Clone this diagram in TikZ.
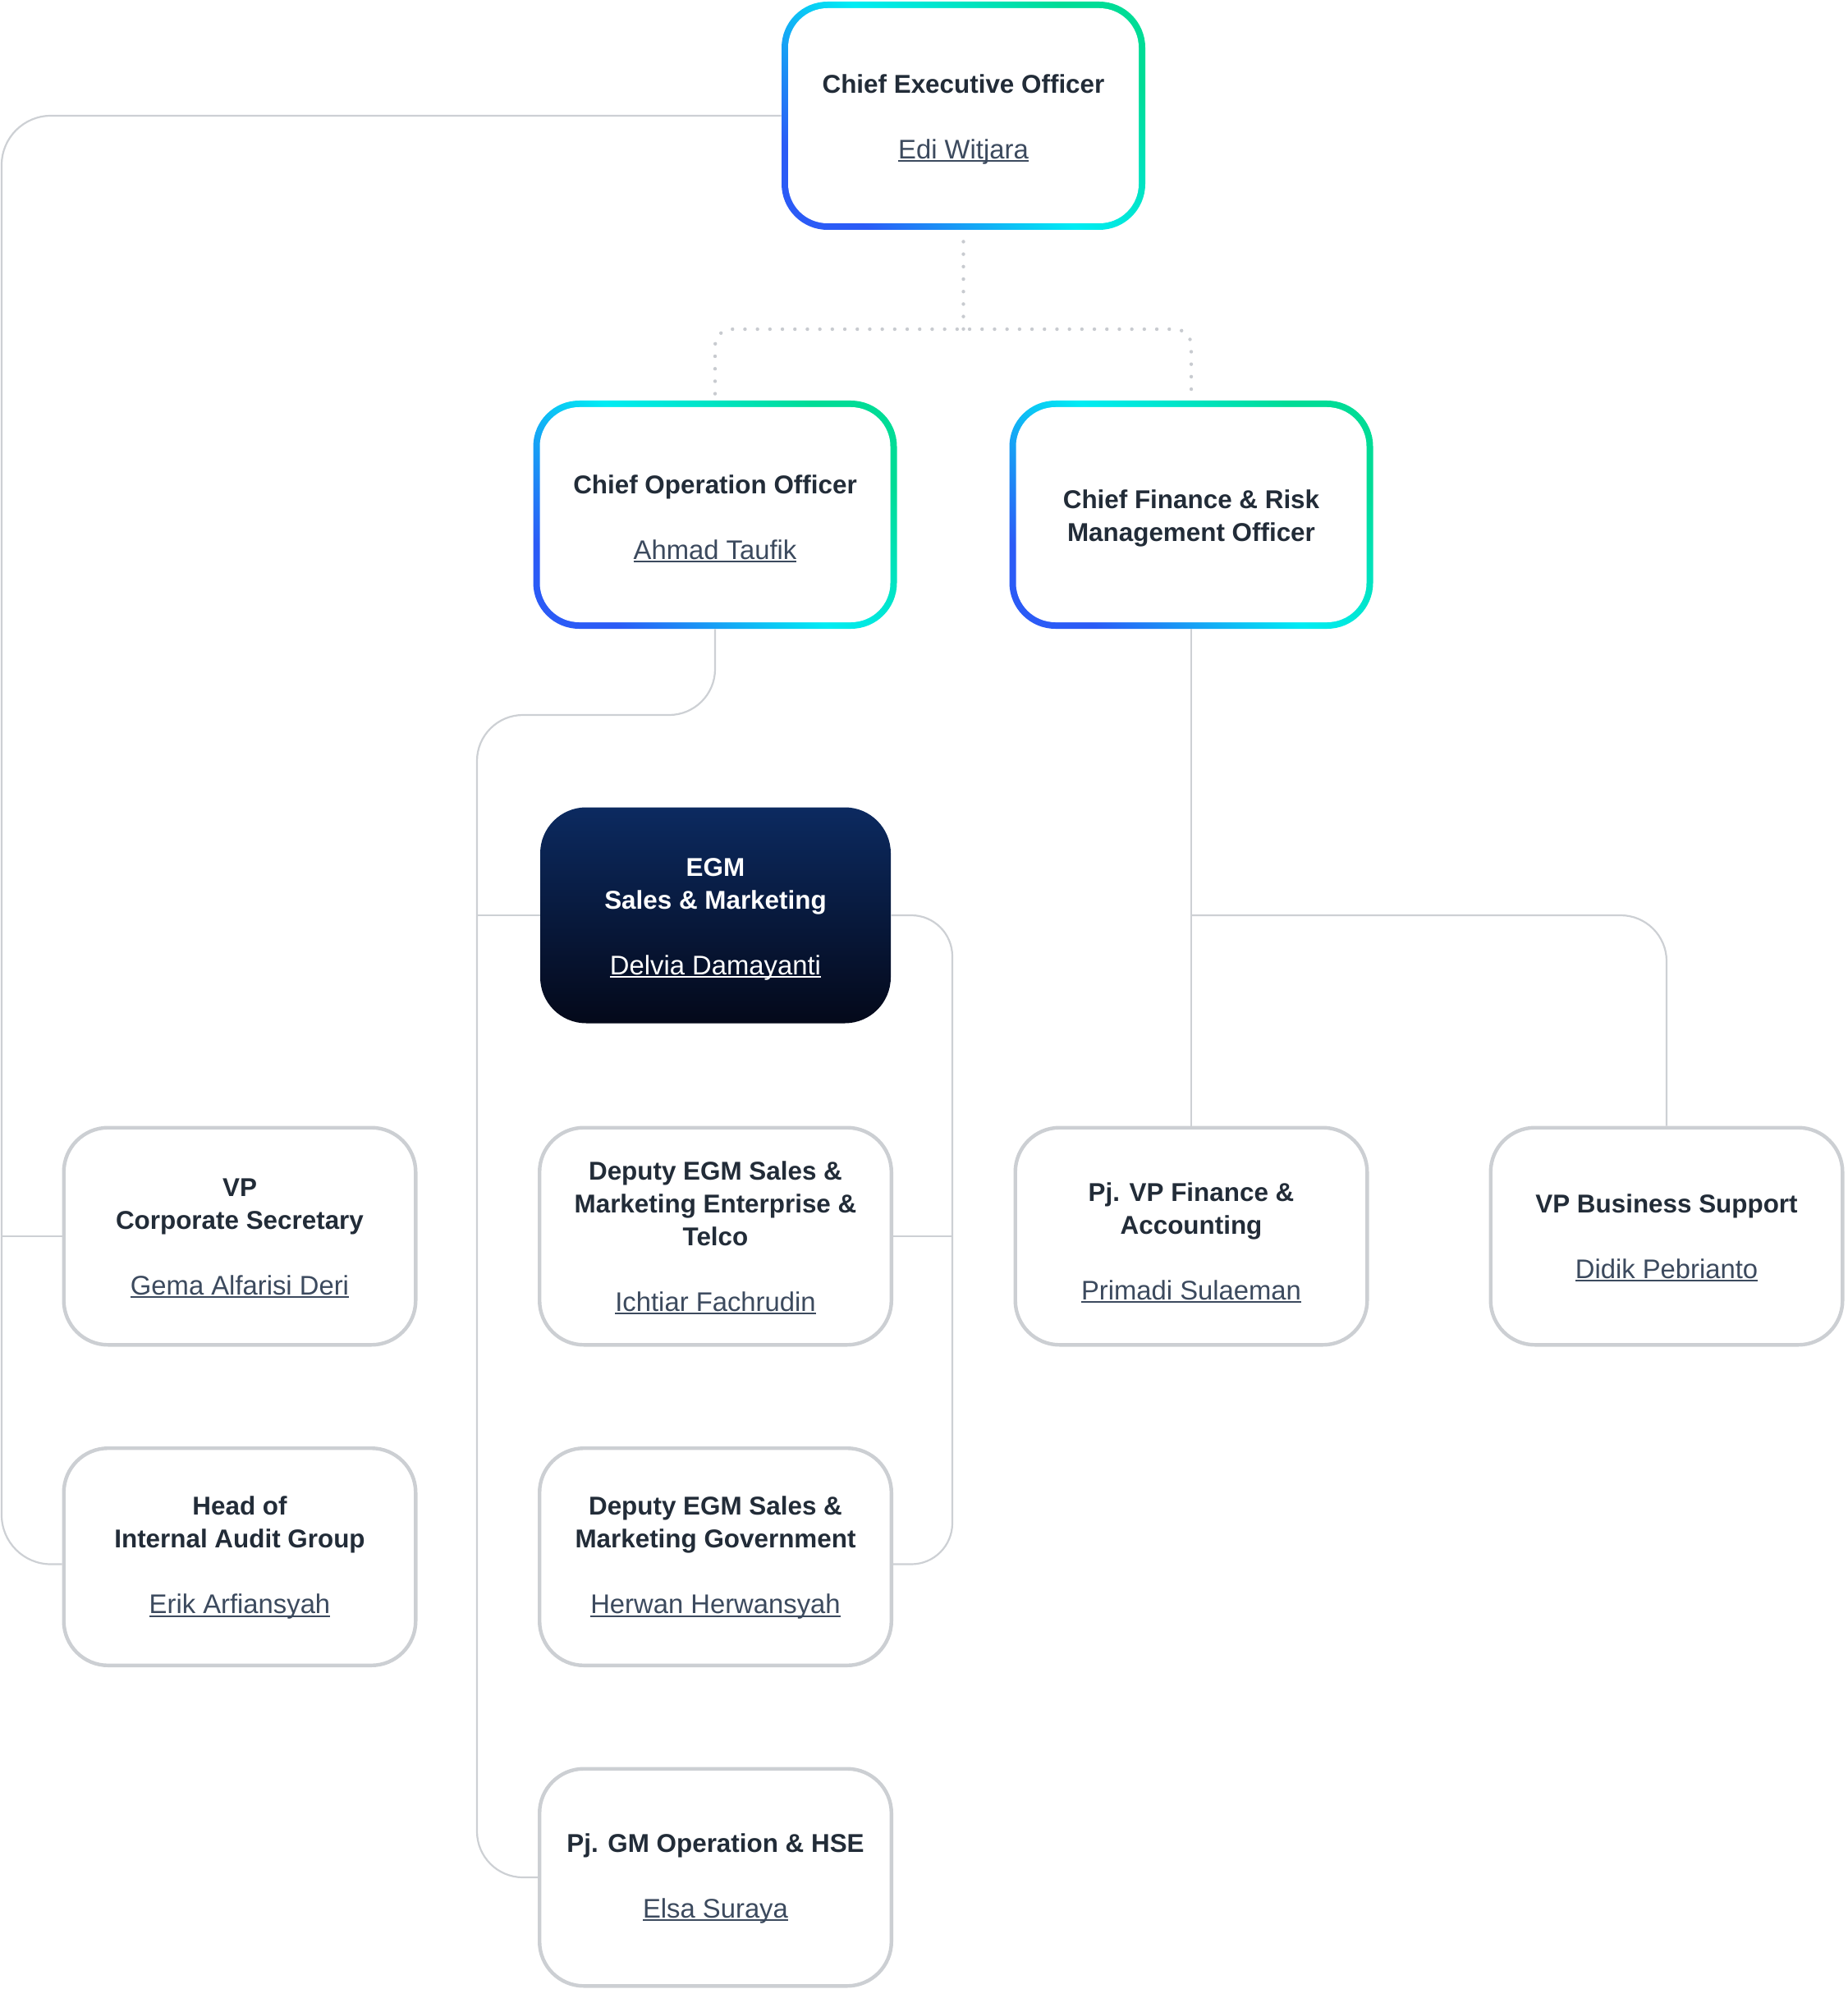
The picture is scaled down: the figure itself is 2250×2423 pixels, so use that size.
\documentclass[tikz,border=0pt]{standalone}
\usepackage{fontspec}
\setmainfont{Liberation Sans}
\usetikzlibrary{calc}
\definecolor{gblue}{RGB}{43,91,246}
\definecolor{gcyan}{RGB}{0,236,244}
\definecolor{ggreen}{RGB}{0,220,150}
\definecolor{egmtop}{RGB}{12,42,96}
\definecolor{egmbot}{RGB}{4,9,26}
\definecolor{ttlc}{RGB}{34,44,56}
\definecolor{nmc}{RGB}{60,74,94}
\definecolor{boxgray}{RGB}{204,207,211}
\definecolor{connc}{RGB}{205,208,212}
\definecolor{dotc}{RGB}{200,203,208}
\newsavebox\ulbox
\newcommand{\myul}[1]{\sbox\ulbox{#1}\leavevmode\rlap{\rule[-1.8pt]{\wd\ulbox}{1pt}}\usebox\ulbox}
\newcommand{\nm}[1]{{\fontsize{16.4}{20}\selectfont\mdseries\myul{#1}}}
\newcommand{\strA}{\rule{0pt}{15.8pt}}
\newcommand{\strB}{\rule{0pt}{12.8pt}}
\newcommand{\strC}{\rule{0pt}{19pt}}
\begin{document}
\begin{tikzpicture}[x=0.5pt,y=-0.5pt,
  txt/.style={align=center, inner sep=0pt, font=\fontsize{15.7}{20}\selectfont\bfseries},
  gbox/.style={txt, text=ttlc, minimum width=221.5pt, minimum height=139pt,
    rounded corners=28pt, shade, bottom color=gblue, top color=ggreen, middle color=gcyan,
    shading angle=-45,
    path picture={\fill[white, rounded corners=24pt]
      ([shift={(4pt,4pt)}]path picture bounding box.south west) rectangle
      ([shift={(-4pt,-4pt)}]path picture bounding box.north east);}},
  ebox/.style={txt, text=white, minimum width=213.5pt, minimum height=131.5pt,
    rounded corners=28pt, top color=egmtop, bottom color=egmbot},
  wbox/.style={txt, text=ttlc, draw=boxgray, line width=2.2pt, fill=white,
    rounded corners=27pt, minimum width=214.3pt, minimum height=132.3pt},
  conn/.style={draw=connc, line width=1.1pt},
  dotline/.style={draw=dotc, line width=2.2pt, line cap=round, dash pattern=on 0pt off 7.6pt}
]
\useasboundingbox (0,0) rectangle (2250,2423);

% nodes
\node[gbox] (ceo) at (1173.5,141) {\strA Chief Executive Officer\\[20pt]{\color{nmc}\nm{Edi Witjara}}};
\node[gbox] (coo) at (871,627) {\strA Chief Operation Officer\\[20pt]{\color{nmc}\nm{Ahmad Taufik}}};
\node[gbox] (cfo) at (1451,627) {\strA Chief Finance \& Risk\\Management Officer};
\node[ebox] (egm) at (871.5,1115) {\strA EGM\\Sales \& Marketing\\[20pt]\nm{Delvia Damayanti}};

\node[wbox] (vpc) at (292,1506) {\strB VP\\Corporate Secretary\\[20pt]{\color{nmc}\nm{Gema Alfarisi Deri}}};
\node[wbox] (dent) at (871.5,1506) {\strB Deputy EGM Sales \&\\Marketing Enterprise \&\\Telco\\[20pt]{\color{nmc}\nm{Ichtiar Fachrudin}}};
\node[wbox] (pjvf) at (1451,1506) {\strC Pj. VP Finance \&\\Accounting\\[20pt]{\color{nmc}\nm{Primadi Sulaeman}}};
\node[wbox] (vpbs) at (2030,1506) {\strB VP Business Support\\[20pt]{\color{nmc}\nm{Didik Pebrianto}}};
\node[wbox] (hia) at (292,1896.5) {\strB Head of\\Internal Audit Group\\[20pt]{\color{nmc}\nm{Erik Arfiansyah}}};
\node[wbox] (dgov) at (871.5,1896.5) {\strB Deputy EGM Sales \&\\Marketing Government\\[20pt]{\color{nmc}\nm{Herwan Herwansyah}}};
\node[wbox] (pjgm) at (871.5,2287) {\strB Pj. GM Operation \& HSE\\[20pt]{\color{nmc}\nm{Elsa Suraya}}};

% rail coordinates
\coordinate (dj) at (1173.5,401);
\coordinate (lrail) at (2,1000);
\coordinate (mrail) at (581,871);
\coordinate (rrail) at (1160,1500);
\coordinate (cj) at (cfo.south |- egm.east);

% dotted links
\draw[dotline] ([yshift=-7pt]ceo.south) -- (dj);
\draw[dotline, rounded corners=10pt] ([yshift=4pt]coo.north) |- (dj) -| ([yshift=4pt]cfo.north);

% CEO to staff
\draw[conn, rounded corners=30pt] (ceo.west) -| (lrail) |- ([yshift=-4.5pt]hia.west);
\draw[conn] (vpc.west) -- (vpc.west -| lrail);

% COO
\draw[conn, rounded corners=28pt] (coo.south) |- (mrail) |- (pjgm.west);
\draw[conn] (egm.west) -- (egm.west -| mrail);

% EGM
\draw[conn, rounded corners=25pt] (egm.east) -| (rrail) |- ([yshift=-4.5pt]dgov.east);
\draw[conn] (dent.east) -- (dent.east -| rrail);

% CFO
\draw[conn] (cfo.south) -- (pjvf.north);
\draw[conn, rounded corners=28pt] (cj) -| (vpbs.north);
\end{tikzpicture}
\end{document}
